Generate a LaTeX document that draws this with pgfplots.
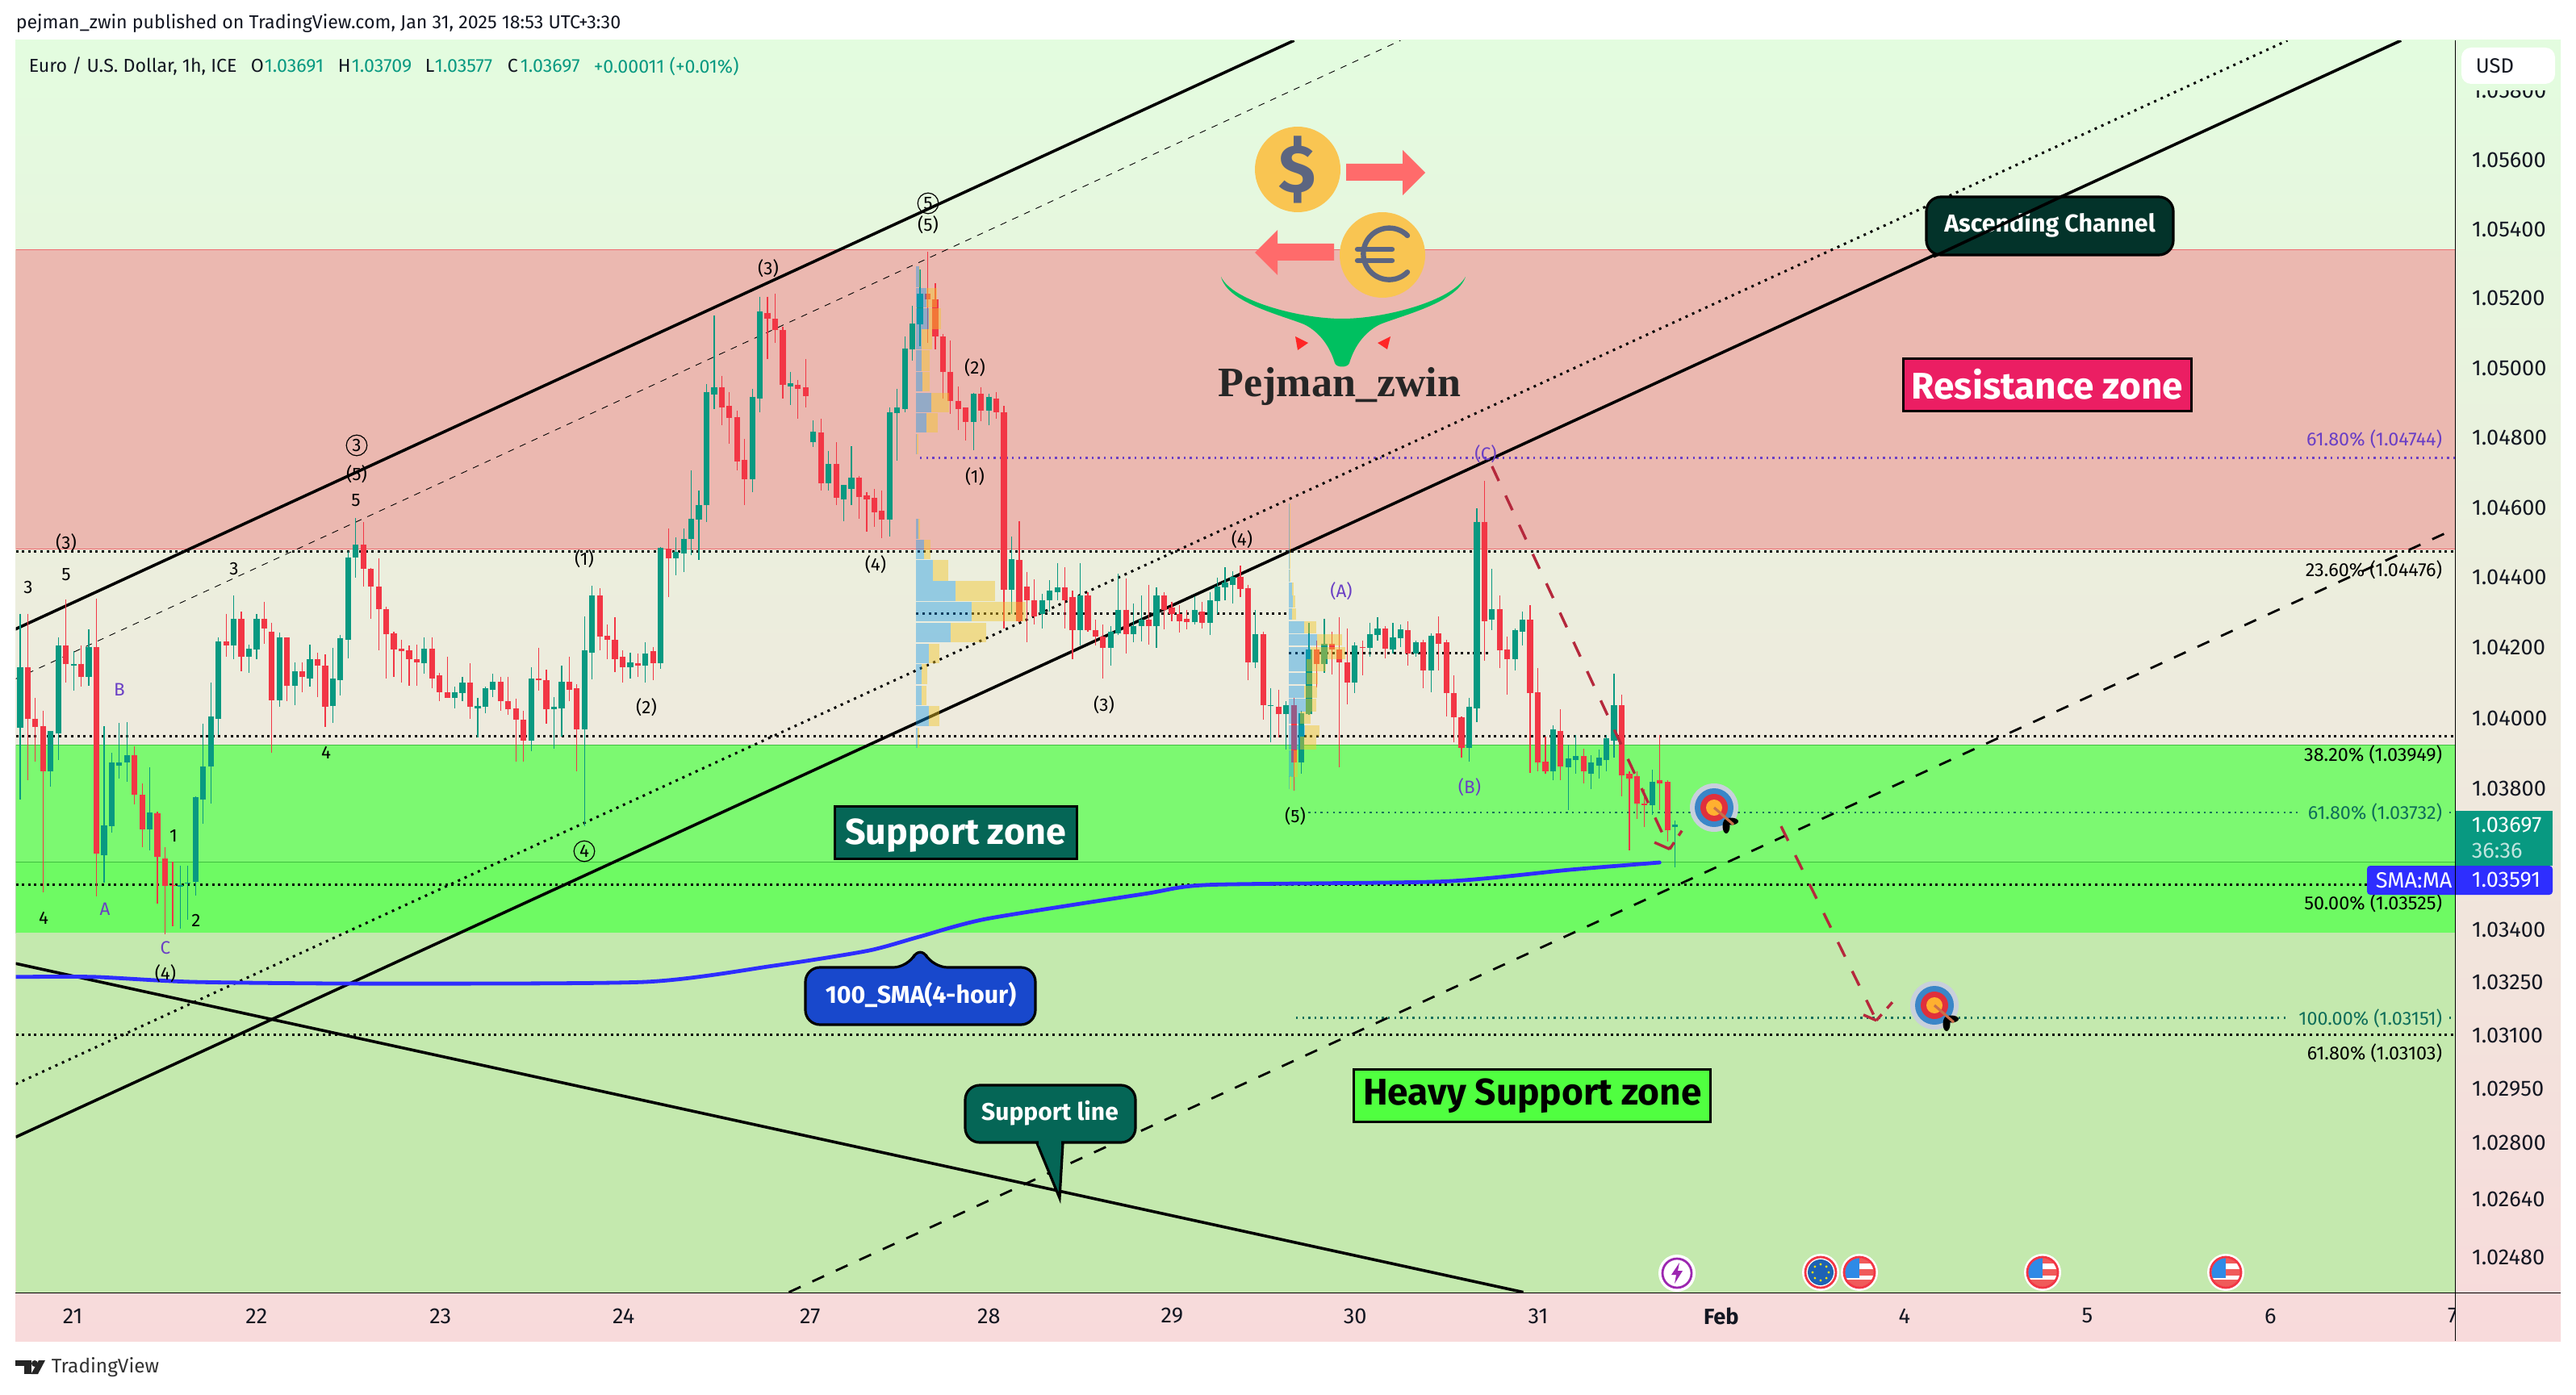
\documentclass[border=0pt]{standalone}
\usepackage{pgfplots}
\usepackage{pgfplotstable}
\usepackage{fontspec}
\pgfplotsset{compat=1.18}
\setmainfont{Fira Sans}
\newfontfamily\logofont{Liberation Serif}
\definecolor{bull}{HTML}{089981}
\definecolor{bear}{HTML}{F23645}
\definecolor{resz}{HTML}{EBB8B0}
\definecolor{supa}{HTML}{7CF971}
\definecolor{supb}{HTML}{6EFA63}
\definecolor{hvy}{HTML}{C4E9AE}
\definecolor{vpb}{HTML}{0F96E9}
\definecolor{vpo}{HTML}{F2C629}
\definecolor{smac}{HTML}{2E2EFF}
\definecolor{purp}{HTML}{6A3FC5}
\definecolor{fibg}{HTML}{0F6E5A}
\definecolor{redd}{HTML}{B5283C}
\definecolor{txt}{HTML}{131722}
\definecolor{coin}{HTML}{F9C552}
\definecolor{coinm}{HTML}{5C6580}
\definecolor{arr}{HTML}{FF6B6B}
\definecolor{bgtop}{HTML}{E3FCDF}
\definecolor{bgbot}{HTML}{F8DADB}
\definecolor{support}{HTML}{056656}
\definecolor{bluecall}{HTML}{1848CC}
\definecolor{heavyl}{HTML}{50FF40}
\definecolor{ascl}{HTML}{03332A}
\definecolor{resl}{HTML}{EB1E63}
\definecolor{logog}{HTML}{00C060}
\definecolor{tgta}{HTML}{C8D0DC}
\definecolor{tgtb}{HTML}{3A86C8}
\definecolor{tgtc}{HTML}{E0303C}
\definecolor{tgtd}{HTML}{FFB030}
\definecolor{tgte}{HTML}{C8704A}
\definecolor{usb}{HTML}{2E8AE6}
\definecolor{usr}{HTML}{F05A5A}
\definecolor{eub}{HTML}{1E62B4}
\definecolor{ltn}{HTML}{9C27B0}
\newcommand\fz[1]{\fontsize{#1}{#1}\selectfont}
% candles: bar index, high, low, body top, body bottom
\pgfplotstableread{
i h l t b
0 1.04299 1.03771 1.04145 1.03972
4 1.03964 1.03806 1.03963 1.03849
5 1.04229 1.03880 1.04205 1.03956
7 1.04189 1.04077 1.04153 1.04149
9 1.04252 1.04093 1.04203 1.04116
11 1.03977 1.03533 1.03694 1.03612
12 1.03902 1.03675 1.03874 1.03693
13 1.03986 1.03830 1.03871 1.03867
14 1.03988 1.03818 1.03894 1.03871
17 1.03860 1.03622 1.03729 1.03683
21 1.03580 1.03402 1.03527 1.03522
22 1.03581 1.03428 1.03533 1.03529
23 1.03778 1.03498 1.03775 1.03535
24 1.03983 1.03701 1.03864 1.03771
25 1.04103 1.03759 1.04004 1.03863
26 1.04229 1.03951 1.04219 1.04000
28 1.04349 1.04168 1.04283 1.04207
30 1.04210 1.04129 1.04196 1.04174
31 1.04296 1.04165 1.04282 1.04194
34 1.04243 1.04032 1.04229 1.04049
36 1.04159 1.04037 1.04134 1.04091
38 1.04210 1.04089 1.04169 1.04114
41 1.04198 1.03986 1.04114 1.04034
42 1.04238 1.04065 1.04226 1.04109
43 1.04476 1.04171 1.04459 1.04224
44 1.04570 1.04400 1.04495 1.04459
53 1.04229 1.04128 1.04196 1.04155
57 1.04089 1.04028 1.04073 1.04057
58 1.04119 1.04047 1.04098 1.04070
60 1.04058 1.03946 1.04033 1.04029
61 1.04089 1.04014 1.04084 1.04032
62 1.04124 1.04061 1.04104 1.04082
67 1.04145 1.03905 1.04114 1.03936
70 1.04059 1.03913 1.04031 1.04027
71 1.04149 1.03944 1.04104 1.04029
74 1.04289 1.03692 1.04191 1.03967
75 1.04376 1.04110 1.04352 1.04187
80 1.04187 1.04112 1.04159 1.04144
82 1.04215 1.04103 1.04184 1.04151
84 1.04489 1.04140 1.04484 1.04155
86 1.04513 1.04407 1.04472 1.04456
87 1.04539 1.04415 1.04511 1.04470
88 1.04708 1.04466 1.04569 1.04511
89 1.04650 1.04450 1.04606 1.04567
90 1.04954 1.04558 1.04932 1.04606
91 1.05152 1.04885 1.04944 1.04922
96 1.04940 1.04647 1.04916 1.04683
97 1.05207 1.04873 1.05163 1.04914
101 1.04988 1.04895 1.04956 1.04947
104 1.04851 1.04771 1.04817 1.04788
106 1.04762 1.04650 1.04726 1.04670
108 1.04666 1.04563 1.04663 1.04622
109 1.04777 1.04607 1.04685 1.04654
114 1.04887 1.04516 1.04874 1.04567
115 1.04940 1.04735 1.04886 1.04871
116 1.05091 1.04872 1.05055 1.04883
117 1.05181 1.05021 1.05129 1.05054
118 1.05282 1.05063 1.05214 1.05126
125 1.04930 1.04766 1.04925 1.04844
127 1.04925 1.04836 1.04916 1.04877
130 1.04518 1.04298 1.04453 1.04365
134 1.04354 1.04256 1.04337 1.04298
135 1.04393 1.04303 1.04362 1.04335
136 1.04442 1.04335 1.04372 1.04361
139 1.04442 1.04205 1.04352 1.04249
143 1.04261 1.04149 1.04245 1.04200
144 1.04410 1.04238 1.04309 1.04242
146 1.04326 1.04214 1.04260 1.04240
147 1.04349 1.04219 1.04280 1.04260
149 1.04371 1.04200 1.04348 1.04261
154 1.04345 1.04266 1.04306 1.04272
156 1.04361 1.04236 1.04335 1.04270
157 1.04401 1.04298 1.04374 1.04334
158 1.04429 1.04335 1.04387 1.04371
159 1.04419 1.04326 1.04402 1.04382
162 1.04306 1.04143 1.04241 1.04159
164 1.04086 1.03930 1.04038 1.04034
166 1.04048 1.03910 1.04038 1.04010
168 1.04022 1.03842 1.04013 1.03872
169 1.04271 1.04009 1.04194 1.04010
171 1.04283 1.04129 1.04211 1.04152
175 1.04216 1.04070 1.04208 1.04098
177 1.04271 1.04176 1.04240 1.04197
178 1.04288 1.04220 1.04256 1.04238
180 1.04270 1.04185 1.04230 1.04194
181 1.04266 1.04202 1.04253 1.04227
183 1.04220 1.04176 1.04216 1.04186
185 1.04242 1.04073 1.04235 1.04135
190 1.04057 1.03877 1.04031 1.03914
191 1.04598 1.03987 1.04560 1.04029
193 1.04424 1.04249 1.04311 1.04279
196 1.04257 1.04135 1.04249 1.04169
197 1.04302 1.04207 1.04279 1.04245
201 1.03980 1.03826 1.03966 1.03849
203 1.03925 1.03740 1.03884 1.03861
204 1.03950 1.03840 1.03893 1.03881
206 1.03894 1.03799 1.03871 1.03842
207 1.03910 1.03830 1.03888 1.03867
208 1.03951 1.03850 1.03941 1.03882
209 1.04128 1.03886 1.04038 1.03938
214 1.03855 1.03725 1.03821 1.03754
217 1.03709 1.03577 1.03697 1.03691
}\upT
\pgfplotstableread{
i h l t b
1 1.04297 1.03825 1.04145 1.04000
2 1.04058 1.03876 1.04000 1.03975
3 1.04020 1.03505 1.03977 1.03850
6 1.04338 1.04103 1.04205 1.04153
8 1.04208 1.04089 1.04153 1.04116
10 1.04341 1.03496 1.04203 1.03617
15 1.03919 1.03755 1.03894 1.03784
16 1.03813 1.03636 1.03784 1.03683
18 1.03734 1.03474 1.03727 1.03606
19 1.03636 1.03388 1.03601 1.03523
20 1.03592 1.03409 1.03527 1.03523
27 1.04299 1.04173 1.04219 1.04207
29 1.04302 1.04134 1.04283 1.04174
32 1.04331 1.04212 1.04283 1.04256
33 1.04271 1.03902 1.04246 1.04049
35 1.04229 1.04047 1.04229 1.04091
37 1.04159 1.04075 1.04132 1.04116
39 1.04187 1.04059 1.04169 1.04150
40 1.04182 1.03975 1.04150 1.04032
45 1.04560 1.04375 1.04495 1.04423
46 1.04428 1.04282 1.04423 1.04375
47 1.04455 1.04191 1.04374 1.04311
48 1.04317 1.04112 1.04311 1.04240
49 1.04246 1.04118 1.04242 1.04194
50 1.04224 1.04098 1.04196 1.04189
51 1.04205 1.04091 1.04191 1.04166
52 1.04210 1.04091 1.04166 1.04158
54 1.04229 1.04084 1.04196 1.04114
55 1.04129 1.04047 1.04121 1.04073
56 1.04175 1.04056 1.04076 1.04057
59 1.04157 1.04000 1.04098 1.04032
63 1.04119 1.04020 1.04104 1.04048
64 1.04119 1.04009 1.04048 1.04027
65 1.04054 1.03876 1.04028 1.03995
66 1.04020 1.03878 1.03997 1.03936
68 1.04201 1.04079 1.04114 1.04107
69 1.04138 1.03984 1.04109 1.04027
72 1.04175 1.04047 1.04104 1.04082
73 1.04095 1.03849 1.04084 1.03970
76 1.04368 1.04191 1.04347 1.04231
77 1.04267 1.04168 1.04235 1.04224
78 1.04287 1.04131 1.04224 1.04169
79 1.04191 1.04098 1.04174 1.04144
81 1.04184 1.04119 1.04155 1.04150
83 1.04203 1.04107 1.04189 1.04155
85 1.04539 1.04343 1.04483 1.04456
92 1.04978 1.04836 1.04944 1.04889
93 1.04931 1.04783 1.04890 1.04858
94 1.04876 1.04706 1.04860 1.04734
95 1.04798 1.04609 1.04738 1.04683
98 1.05205 1.05025 1.05161 1.05141
99 1.05214 1.05074 1.05142 1.05108
100 1.05119 1.04914 1.05108 1.04951
102 1.04966 1.04856 1.04951 1.04941
103 1.05027 1.04886 1.04946 1.04919
105 1.04855 1.04650 1.04814 1.04670
107 1.04788 1.04609 1.04726 1.04627
110 1.04692 1.04569 1.04685 1.04632
111 1.04647 1.04532 1.04634 1.04624
112 1.04653 1.04545 1.04627 1.04587
113 1.04650 1.04512 1.04592 1.04567
119 1.05334 1.05074 1.05214 1.05197
120 1.05244 1.05054 1.05197 1.05091
121 1.05100 1.04915 1.05090 1.04988
122 1.05077 1.04869 1.04990 1.04905
123 1.04947 1.04824 1.04906 1.04884
124 1.04886 1.04791 1.04886 1.04844
126 1.04944 1.04848 1.04925 1.04877
128 1.04931 1.04855 1.04914 1.04873
129 1.04890 1.04256 1.04874 1.04365
131 1.04564 1.04272 1.04451 1.04274
132 1.04416 1.04216 1.04375 1.04335
133 1.04394 1.04266 1.04337 1.04289
137 1.04430 1.04256 1.04372 1.04337
138 1.04363 1.04166 1.04342 1.04249
140 1.04359 1.04247 1.04352 1.04249
141 1.04280 1.04207 1.04251 1.04233
142 1.04266 1.04114 1.04233 1.04200
145 1.04398 1.04184 1.04309 1.04240
148 1.04382 1.04210 1.04280 1.04260
150 1.04361 1.04252 1.04348 1.04309
151 1.04331 1.04275 1.04315 1.04297
152 1.04321 1.04244 1.04297 1.04274
153 1.04307 1.04252 1.04281 1.04272
155 1.04331 1.04256 1.04301 1.04270
160 1.04436 1.04342 1.04402 1.04367
161 1.04382 1.04108 1.04370 1.04159
163 1.04247 1.03997 1.04241 1.04037
165 1.04081 1.03943 1.04032 1.04010
167 1.04057 1.03795 1.04038 1.03872
170 1.04220 1.04088 1.04194 1.04152
172 1.04245 1.04123 1.04211 1.04194
173 1.04288 1.03861 1.04194 1.04158
174 1.04257 1.04039 1.04158 1.04098
176 1.04220 1.04121 1.04202 1.04197
179 1.04260 1.04172 1.04256 1.04196
182 1.04276 1.04151 1.04249 1.04186
184 1.04224 1.04086 1.04215 1.04135
186 1.04290 1.04135 1.04242 1.04211
187 1.04224 1.04004 1.04215 1.04069
188 1.04120 1.03931 1.04069 1.04002
189 1.04004 1.03889 1.04002 1.03915
192 1.04679 1.04164 1.04560 1.04276
194 1.04347 1.04143 1.04311 1.04192
195 1.04233 1.04068 1.04194 1.04169
198 1.04323 1.03844 1.04279 1.04069
199 1.04141 1.03848 1.04072 1.03872
200 1.03949 1.03842 1.03878 1.03848
202 1.04024 1.03822 1.03964 1.03864
205 1.03912 1.03815 1.03893 1.03848
210 1.04068 1.03777 1.04038 1.03837
211 1.03849 1.03624 1.03840 1.03830
212 1.03850 1.03712 1.03833 1.03757
213 1.03800 1.03690 1.03758 1.03754
215 1.03952 1.03740 1.03824 1.03815
216 1.03824 1.03652 1.03817 1.03682
}\downT
% volume-profile row: top price, bottom price, first x, x end of blue, x end of orange
\newcommand\vp[5]{%
 \addplot[fill=vpb,draw=none,fill opacity=.4,forget plot] coordinates {(#3,#1)(#4,#1)(#4,#2)(#3,#2)} -- cycle;
 \addplot[fill=vpo,draw=none,fill opacity=.45,forget plot] coordinates {(#4,#1)(#5,#1)(#5,#2)(#4,#2)} -- cycle;}
\newcommand\zone[4]{\addplot[fill=#3,draw=#4,line width=.25pt,forget plot] coordinates {(-0.58,#1)(319.3,#1)(319.3,#2)(-0.58,#2)} -- cycle;}
\newcommand\wv[3][black]{\node[text=#1,font=\fz{5.6}] at (#2) {#3};}
\newcommand\wc[1]{\node[circle,draw=black,line width=.3pt,inner sep=.5pt,minimum size=6.4pt,font=\fz{5}] at (#1) {};}
\newcommand\tgt[1]{\begin{scope}[shift={(#1)}]
 \fill[tgta] (0,0) circle (30);
 \fill[tgtb] (0,0) circle (24);
 \fill[tgtc] (0,0) circle (17);
 \fill[tgtd] (0,0) circle (10);
 \fill[black] (21,17) ellipse (9 and 4.5);
 \fill[black] (15,23) ellipse (4.5 and 9);
 \draw[line width=.8pt,color=tgte] (0,0) -- (24,21);
\end{scope}}
\newcommand\usflag[1]{\begin{scope}[shift={(#1,1577)}]
 \fill[white] (0,0) circle (23);
 \begin{scope}\clip (0,0) circle (18);
 \fill[white] (-20,-20) rectangle (20,20);
 \fill[usr] (-20,9) rectangle (20,20);
 \fill[usr] (0,-4) rectangle (20,4);
 \fill[usr] (0,-20) rectangle (20,-11);
 \fill[usb] (-20,-20) rectangle (0,7);
 \end{scope}
 \draw[line width=.7pt,color=bear] (0,0) circle (19);
\end{scope}}
\begin{document}
\begin{tikzpicture}
\useasboundingbox (0,0) rectangle (798pt,432pt);
\fill[white] (0,0) rectangle (798pt,432pt);
\begin{scope}[x=0.25pt,y=-0.25pt,shift={(0,432pt)}]
 \shade[top color=bgtop,bottom color=bgbot] (19,50) rectangle (3173,1662);
\end{scope}
\begin{axis}[at={(4.875pt,31.25pt)},anchor=south west,scale only axis,
 width=755.7pt,height=388.25pt,ymode=log,
 xmin=-0.58,xmax=319.3,ymin=1.02377,ymax=1.05944,
 axis x line*=bottom,axis y line*=right,axis line style={draw=none},
 tick style={draw=none},major tick length=0pt,
 xtick={6.72,30.83,54.94,78.95,103.4,126.86,150.87,174.88,198.88,222.89,246.9,270.9,294.9,318.8},
 xticklabels={21,22,23,24,27,28,29,30,31,\textbf{Feb},4,5,6,7},
 ytick={1.0248,1.0264,1.028,1.0295,1.031,1.0325,1.034,1.038,1.04,1.042,1.044,1.046,1.048,1.05,1.052,1.054,1.056,1.058},
 yticklabels={1.02480,1.02640,1.02800,1.02950,1.03100,1.03250,1.03400,1.03800,1.04000,1.04200,1.04400,1.04600,1.04800,1.05000,1.05200,1.05400,1.05600,1.05800},
 yticklabel pos=right,minor tick num=0,log ticks with fixed point,
 xticklabel style={font=\fz{6.8},text=txt,anchor=center,yshift=-7pt,xshift=.4pt,inner sep=0pt},
 yticklabel style={font=\fz{6.8},text=txt,anchor=west,xshift=5pt,inner sep=0pt},
 clip=true]
% zones
\zone{1.05340}{1.04482}{resz}{bear!60!resz}
\zone{1.03924}{1.03592}{supa}{green!50!gray}
\zone{1.03592}{1.03389}{supb}{green!50!gray}
\zone{1.03389}{1.02377}{hvy}{hvy}
% fib and level lines
\addplot[black,line width=.75pt,dash pattern=on .75pt off 1.15pt,forget plot] coordinates {(-0.58,1.04476)(319.3,1.04476)};
\addplot[black,line width=.75pt,dash pattern=on .75pt off 1.15pt,forget plot] coordinates {(-0.58,1.03949)(319.3,1.03949)};
\addplot[black,line width=.75pt,dash pattern=on .75pt off 1.15pt,forget plot] coordinates {(-0.58,1.03525)(319.3,1.03525)};
\addplot[black,line width=.75pt,dash pattern=on .75pt off 1.15pt,forget plot] coordinates {(-0.58,1.03103)(319.3,1.03103)};
\addplot[purp,line width=.6pt,dash pattern=on .6pt off 1.3pt,forget plot] coordinates {(118.0,1.04744)(319.3,1.04744)};
\addplot[fibg,line width=.6pt,dash pattern=on .6pt off 1.3pt,forget plot] coordinates {(167.3,1.03732)(319.3,1.03732)};
\addplot[fibg,line width=.6pt,dash pattern=on .6pt off 1.3pt,forget plot] coordinates {(167.3,1.03151)(319.3,1.03151)};
% point of control lines
\addplot[black,line width=.7pt,dash pattern=on .75pt off 1.15pt,forget plot] coordinates {(117.5,1.04298)(166.4,1.04298)};
\addplot[black,line width=.7pt,dash pattern=on .75pt off 1.15pt,forget plot] coordinates {(166.4,1.04184)(192.6,1.04184)};
% channels
\addplot[black,line width=.9pt,forget plot] coordinates {(-0.645,1.04252)(167.05,1.05944)};
\addplot[black,line width=.22pt,dash pattern=on 2pt off 2pt,forget plot] coordinates {(-0.6,1.04112)(181.0,1.05944)};
\addplot[black,line width=.9pt,forget plot] coordinates {(-0.58,1.02816)(312.2,1.05944)};
\addplot[black,line width=.75pt,dash pattern=on .75pt off 1.5pt,forget plot] coordinates {(-0.58,1.02963)(297.3,1.05944)};
\addplot[black,line width=.7pt,dash pattern=on 4pt off 4pt,forget plot] coordinates {(100.8,1.02379)(318.8,1.04537)};
\addplot[black,line width=.9pt,forget plot] coordinates {(-0.58,1.03302)(197.1,1.02379)};
% 100 SMA
\addplot[smac,line width=1.2pt,line cap=round,smooth,tension=.4,forget plot] coordinates {(-0.6,1.03266)(9.68,1.03266)(22.7,1.03250)(45.8,1.03248)(81.9,1.03252)(98.8,1.03298)(111.2,1.03341)(117.9,1.03380)(126.7,1.03432)(147.5,1.03503)(155.9,1.03526)(186.6,1.03537)(203.2,1.03569)(214.96,1.03589)};
% wicks then bodies
\addplot[draw=none,mark=none,forget plot,error bars/.cd,y dir=minus,y explicit,error mark=none,error bar style={draw=bull,line width=.3pt}] table[x=i,y=h,y error expr=\thisrow{h}-\thisrow{l}]{\upT};
\addplot[draw=none,mark=none,forget plot,error bars/.cd,y dir=minus,y explicit,error mark=none,error bar style={draw=bear,line width=.3pt}] table[x=i,y=h,y error expr=\thisrow{h}-\thisrow{l}]{\downT};
\addplot[draw=none,mark=none,forget plot,error bars/.cd,y dir=minus,y explicit,error mark=none,error bar style={draw=bull,line width=1.8pt}] table[x=i,y=t,y error expr=\thisrow{t}-\thisrow{b}]{\upT};
\addplot[draw=none,mark=none,forget plot,error bars/.cd,y dir=minus,y explicit,error mark=none,error bar style={draw=bear,line width=1.8pt}] table[x=i,y=t,y error expr=\thisrow{t}-\thisrow{b}]{\downT};
% volume profiles
\vp{1.05292}{1.05233}{117.5}{117.93}{118.04}
\vp{1.05230}{1.05174}{117.5}{118.85}{120.2}
\vp{1.05171}{1.05112}{117.5}{119.12}{120.74}
\vp{1.05110}{1.05054}{117.5}{118.2}{119.55}
\vp{1.05051}{1.04992}{117.5}{118.2}{119.28}
\vp{1.04990}{1.04933}{117.5}{118.26}{119.23}
\vp{1.04930}{1.04872}{117.5}{119.5}{121.82}
\vp{1.04870}{1.04814}{117.5}{118.85}{120.36}
\vp{1.04810}{1.04754}{117.5}{117.61}{117.77}
\vp{1.04569}{1.04511}{117.5}{117.77}{117.99}
\vp{1.04509}{1.04452}{117.5}{118.53}{119.39}
\vp{1.04449}{1.04392}{117.5}{119.71}{121.65}
\vp{1.04390}{1.04334}{117.5}{122.68}{127.86}
\vp{1.04331}{1.04274}{117.5}{124.79}{131.81}
\vp{1.04271}{1.04214}{117.5}{122.03}{126.67}
\vp{1.04212}{1.04155}{117.5}{119.17}{120.57}
\vp{1.04152}{1.04095}{117.5}{118.2}{118.96}
\vp{1.04093}{1.04037}{117.5}{118.2}{118.85}
\vp{1.04034}{1.03976}{117.5}{119.17}{120.57}
\vp{1.03973}{1.03916}{117.5}{117.72}{117.94}
\vp{1.04612}{1.04575}{166.4}{166.45}{166.5}
\vp{1.04574}{1.04537}{166.4}{166.45}{166.5}
\vp{1.04535}{1.04499}{166.4}{166.45}{166.5}
\vp{1.04497}{1.04462}{166.4}{166.45}{166.5}
\vp{1.04461}{1.04426}{166.4}{166.45}{166.5}
\vp{1.04425}{1.04389}{166.4}{166.5}{166.6}
\vp{1.04387}{1.04352}{166.4}{166.82}{167.02}
\vp{1.04350}{1.04315}{166.4}{166.87}{167.15}
\vp{1.04313}{1.04279}{166.4}{166.82}{167.29}
\vp{1.04276}{1.04242}{166.4}{168.38}{169.98}
\vp{1.04239}{1.04205}{166.4}{170.08}{173.38}
\vp{1.04202}{1.04169}{166.4}{169.23}{173.76}
\vp{1.04166}{1.04132}{166.4}{168.67}{171.27}
\vp{1.04129}{1.04095}{166.4}{168.67}{170.18}
\vp{1.04092}{1.04057}{166.4}{168.38}{170.08}
\vp{1.04054}{1.04019}{166.4}{168.57}{169.99}
\vp{1.04017}{1.03982}{166.4}{167.82}{169.24}
\vp{1.03980}{1.03947}{166.4}{168.52}{170.41}
\vp{1.03944}{1.03910}{166.4}{167.82}{169.94}
\vp{1.03908}{1.03872}{166.4}{166.97}{167.54}
\vp{1.03871}{1.03835}{166.4}{166.97}{167.54}
\vp{1.03833}{1.03798}{166.4}{166.49}{166.68}
% projected paths
\addplot[redd,line width=.85pt,dash pattern=on 5pt off 5pt,forget plot] coordinates {(193,1.04720)(216.3,1.03629)};
\addplot[redd,line width=.85pt,forget plot] coordinates {(214.3,1.03647)(216.3,1.03629)};
\addplot[redd,line width=.85pt,dash pattern=on 2.5pt off 2.5pt,forget plot] coordinates {(216.3,1.03629)(217.9,1.03681)};
\addplot[redd,line width=.85pt,dash pattern=on 5pt off 5pt,forget plot] coordinates {(230.9,1.03692)(243.4,1.03145)};
\addplot[redd,line width=.85pt,forget plot] coordinates {(241.7,1.03159)(243.4,1.03145)};
\addplot[redd,line width=.85pt,dash pattern=on 2.5pt off 2.5pt,forget plot] coordinates {(243.4,1.03145)(246.1,1.03209)};
\end{axis}
\begin{scope}[x=0.25pt,y=-0.25pt,shift={(0,432pt)}]
 % frame lines
 \fill[bgbot] (3043,1604) rectangle (3173,1662);
 \draw[black,line width=.35pt] (3042.3,50) -- (3042.3,1662);
 \draw[black,line width=.35pt] (19,1602.5) -- (3173,1602.5);
 % header
 \node[anchor=west,inner sep=0,text=txt,font=\fz{5.8}] at (19,29) {pejman\_zwin published on TradingView.com, Jan 31, 2025 18:53 UTC+3:30};
 \node[anchor=west,inner sep=0,text=txt,font=\fz{5.8}] at (35,82) {Euro / U.S. Dollar, 1h, ICE};
 \node[anchor=west,inner sep=0,text=txt,font=\fz{5.8}] at (310,82) {O};
 \node[anchor=west,inner sep=0,text=bull,font=\fz{5.8}] at (327,82) {1.03691};
 \node[anchor=west,inner sep=0,text=txt,font=\fz{5.8}] at (418,82) {H};
 \node[anchor=west,inner sep=0,text=bull,font=\fz{5.8}] at (435,82) {1.03709};
 \node[anchor=west,inner sep=0,text=txt,font=\fz{5.8}] at (526,82) {L};
 \node[anchor=west,inner sep=0,text=bull,font=\fz{5.8}] at (538,82) {1.03577};
 \node[anchor=west,inner sep=0,text=txt,font=\fz{5.8}] at (628,82) {C};
 \node[anchor=west,inner sep=0,text=bull,font=\fz{5.8}] at (644,82) {1.03697};
 \node[anchor=west,inner sep=0,text=bull,font=\fz{5.8}] at (735,82) {+0.00011 (+0.01\%)};
 % USD
 \fill[bgtop] (3043.5,51) rectangle (3173,112);
 \fill[white,rounded corners=3pt] (3050,59) rectangle (3166,104);
 \node[anchor=west,inner sep=0,text=txt,font=\fz{6.4}] at (3067,82) {USD};
 % fib labels
 \node[anchor=east,inner sep=0,text=purp,font=\fz{5.85}] at (3027,544) {61.80\% (1.04744)};
 \node[anchor=east,inner sep=0,text=black,font=\fz{5.85}] at (3027,706) {23.60\% (1.04476)};
 \node[anchor=east,inner sep=0,text=black,font=\fz{5.85}] at (3027,935) {38.20\% (1.03949)};
 \fill[supa] (2847,990) rectangle (3035,1024);
 \node[anchor=east,inner sep=0,text=fibg,font=\fz{5.85}] at (3027,1007) {61.80\% (1.03732)};
 \node[anchor=east,inner sep=0,text=black,font=\fz{5.85}] at (3027,1119) {50.00\% (1.03525)};
 \fill[hvy] (2832,1247) rectangle (3035,1277);
 \node[anchor=east,inner sep=0,text=fibg,font=\fz{5.85}] at (3027,1262) {100.00\% (1.03151)};
 \node[anchor=east,inner sep=0,text=black,font=\fz{5.85}] at (3027,1305) {61.80\% (1.03103)};
 % price tags
 \fill[bull] (3043,1005) rectangle (3163,1073);
 \node[anchor=west,inner sep=0,text=white,font=\fz{6.8}] at (3062,1023) {1.03697};
 \node[anchor=west,inner sep=0,text=white!75!bull,font=\fz{6.8}] at (3062,1054) {36:36};
 \fill[smac,rounded corners=1pt] (2933,1073) rectangle (3163,1109);
 \draw[black,line width=.35pt] (3042.3,1073) -- (3042.3,1109);
 \node[anchor=west,inner sep=0,text=white,font=\fz{6.8}] at (2943,1091) {SMA:MA};
 \node[anchor=west,inner sep=0,text=white,font=\fz{6.8}] at (3062,1091) {1.03591};
 % wave labels
 \wv{82,673}{(3)} \wv{82,712}{5} \wv{35,728}{3} \wv{290,705}{3} \wv{441,620}{5}
 \wv{724,693}{(1)} \wv{801,877}{(2)} \wv{404,933}{4} \wv{54,1138}{4}
 \wv[purp]{130,1127}{A} \wv[purp]{148,855}{B} \wv[purp]{205,1175}{C}
 \wv{205,1207}{(4)} \wv{215,1036}{1} \wv{243,1141}{2}
 \wv{724,1055}{4} \wc{724,1055}
 \wv{442,552}{3} \wc{442,552} \wv{442,588}{(5)}
 \wv{952,333}{(3)} \wv{1150,252}{5} \wc{1150,252} \wv{1150,279}{(5)}
 \wv{1208,456}{(2)} \wv{1208,591}{(1)} \wv{1085,700}{(4)} \wv{1368,874}{(3)}
 \wv{1539,669}{(4)} \wv[purp]{1662,733}{(A)} \wv[purp]{1841,563}{(C)}
 \wv[purp]{1821,976}{(B)} \wv{1605,1012}{(5)}
 % callouts
 \draw[black,line width=.75pt,fill=support] (1034.5,999.5) rectangle (1334.5,1064.5);
 \node[text=white,font=\fz{11.2}\bfseries] at (1184,1036) {Support zone};
 \draw[black,line width=.8pt,fill=bluecall,rounded corners=4.5pt] (998,1199) -- (1125,1199) -- (1140,1171) -- (1156,1199) -- (1283,1199) -- (1283,1270) -- (998,1270) -- cycle;
 \node[text=white,font=\fz{7.6}\bfseries] at (1141,1233) {100\_SMA(4-hour)};
 \draw[black,line width=.8pt,fill=support] (1285,1417) -- (1313,1485) -- (1317,1417) -- cycle;
 \draw[black,line width=.8pt,fill=support,rounded corners=4.5pt] (1196,1345) rectangle (1407,1416);
 \fill[support] (1287,1412) rectangle (1315,1420);
 \node[text=white,font=\fz{7.5}\bfseries] at (1301,1380) {Support line};
 \draw[black,line width=.9pt,fill=heavyl] (1677.5,1325.5) rectangle (2119.5,1390.5);
 \node[text=black,font=\fz{11.5}\bfseries] at (1899,1358) {Heavy Support zone};
 \draw[black,line width=.8pt,fill=ascl,rounded corners=4.5pt] (2387,244) rectangle (2693,316);
 \node[text=white,font=\fz{7.6}\bfseries] at (2540,279) {Ascending Channel};
 \draw[black,line width=.9pt] (2396,318) -- (2556,243);
 \draw[black,line width=.75pt,fill=resl] (2358.5,444.5) rectangle (2715.5,509.5);
 \node[text=white,font=\fz{11.5}\bfseries] at (2537,476) {Resistance zone};
 % logo
 \fill[coin] (1608,210) circle (53);
 \fill[coin] (1713,316) circle (53);
 \node[text=coinm,font=\fz{21}\bfseries] at (1608,210) {\$};
 \draw[coinm,line width=1.6pt,line cap=round] (1744,292) arc[start angle=-45,end angle=-315,radius=32];
 \draw[coinm,line width=1.6pt,line cap=round] (1682,309) -- (1725,309) (1682,323) -- (1725,323);
 \fill[arr] (1668,203) -- (1738,203) -- (1738,186) -- (1766,214) -- (1738,242) -- (1738,224) -- (1668,224) -- cycle;
 \fill[arr] (1653,302) -- (1583,302) -- (1583,285) -- (1555,313) -- (1583,341) -- (1583,323) -- (1653,323) -- cycle;
 \fill[logog] (1513,343) .. controls (1527,373) and (1610,395) .. (1663,395) .. controls (1716,395) and (1799,373) .. (1816,343) .. controls (1805,375) and (1740,390) .. (1710,402) .. controls (1690,412) and (1678,430) .. (1672,450) .. controls (1670,456) and (1656,456) .. (1654,450) .. controls (1648,430) and (1636,412) .. (1616,402) .. controls (1586,390) and (1521,375) .. (1513,343) -- cycle;
 \fill[red!85!white] (1605,417) -- (1621,425) -- (1608,434) -- cycle;
 \fill[red!85!white] (1723,417) -- (1707,425) -- (1719,433) -- cycle;
 \node[text=black!85,font=\fz{13}\bfseries\logofont] at (1660,479) {Pejman\_zwin};
 % targets
 \tgt{2124,1001} \tgt{2397,1246}
 % events
 \begin{scope}[shift={(2078,1578)}]
 \fill[white] (0,0) circle (23);
 \draw[line width=.7pt,color=ltn] (0,0) circle (18);
 \fill[ltn] (3,-13) -- (-7,2) -- (-1,2) -- (-3,13) -- (7,-3) -- (1,-3) -- cycle;
 \end{scope}
 \begin{scope}[shift={(2256,1577)}]
 \fill[white] (0,0) circle (23);
 \fill[eub] (0,0) circle (16);
 \draw[line width=.7pt,color=bear] (0,0) circle (19);
 \foreach \a in {0,45,...,315} \fill[yellow!90!orange] (\a:10) circle (1.6);
 \end{scope}
 \usflag{2304} \usflag{2531} \usflag{2758}
 % brand
 \fill[black!85] (19,1686) rectangle (39,1693);
 \fill[black!85] (30,1686) rectangle (39,1703);
 \fill[black!85] (43,1690) circle (4);
 \fill[black!85] (48,1686) -- (56,1686) -- (47,1703) -- (38.5,1703) -- cycle;
 \node[anchor=west,inner sep=0,text=black!80,font=\fz{6.1}] at (63,1695) {TradingView};
\end{scope}
\end{tikzpicture}
\end{document}
